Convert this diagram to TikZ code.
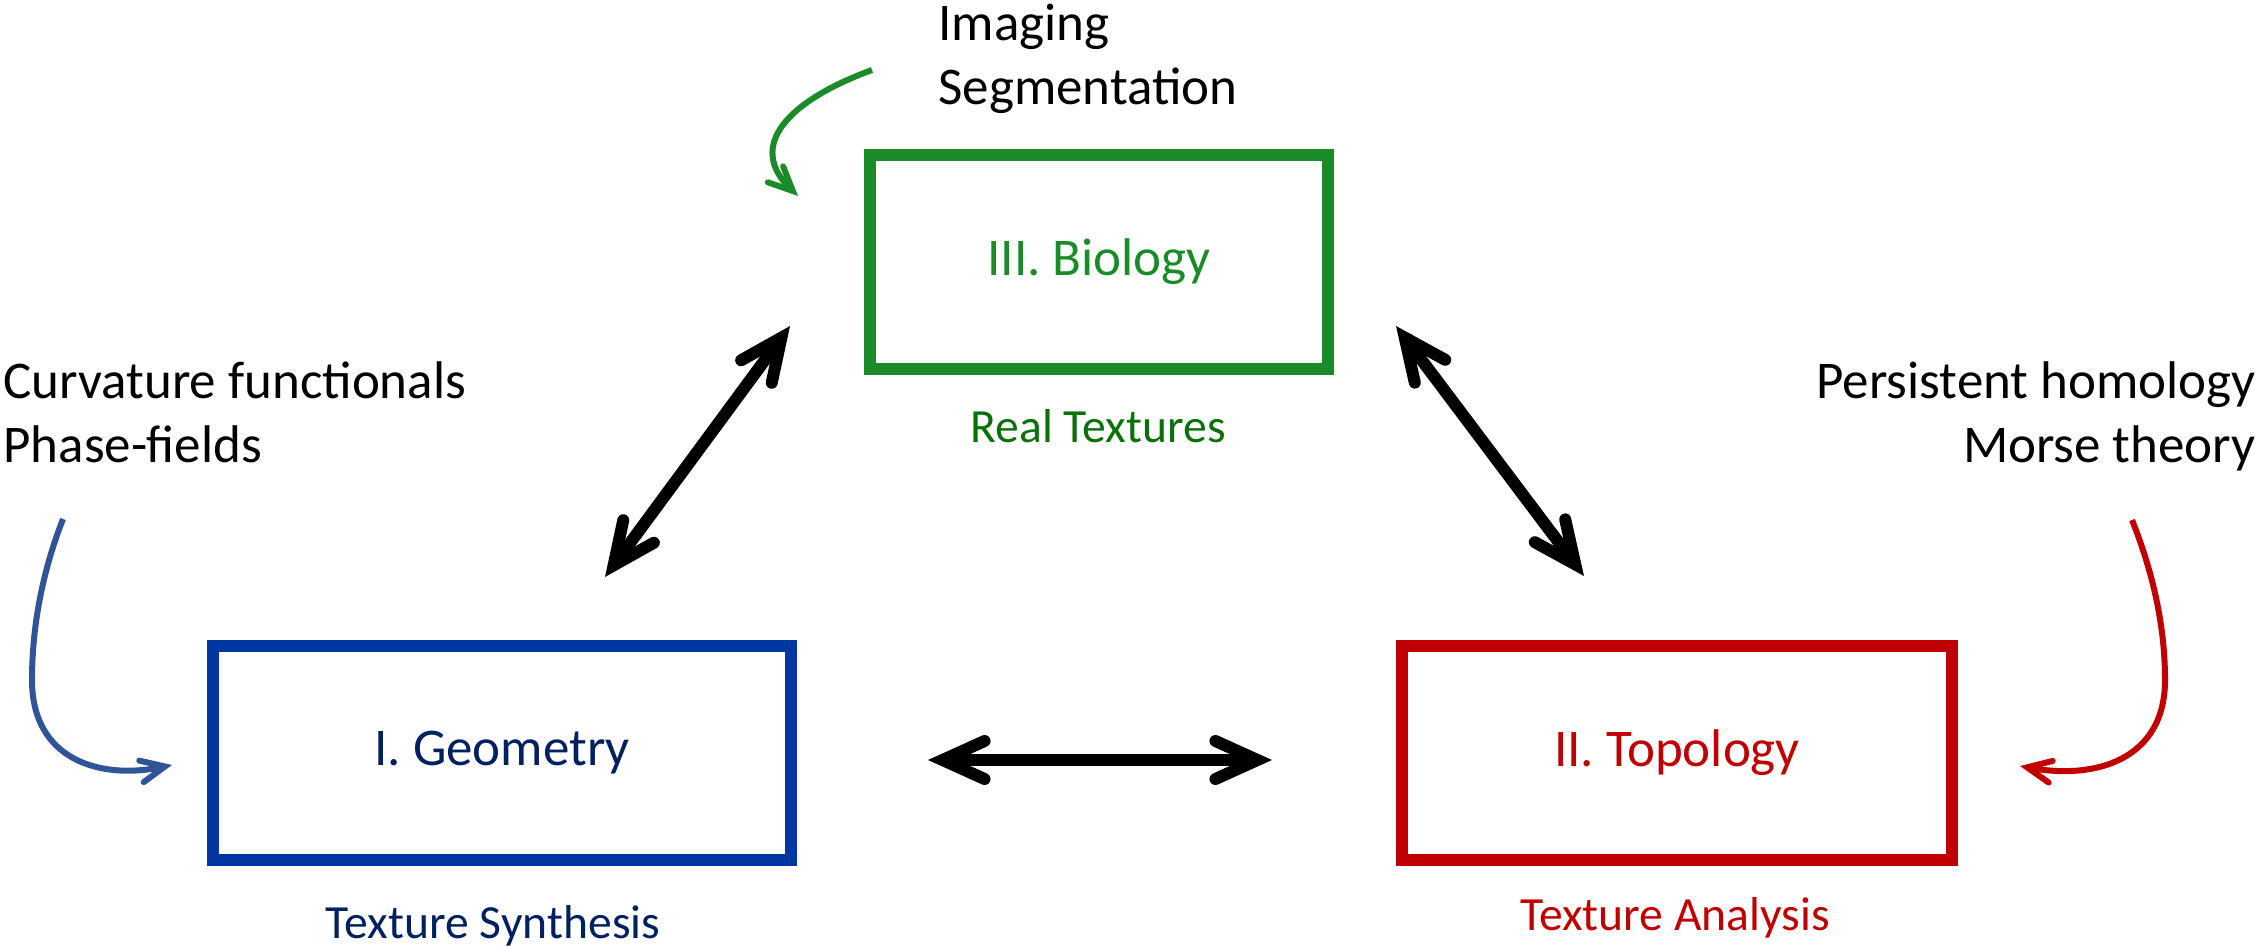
\documentclass[tikz,border=0pt]{standalone}
\usepackage{fontspec}
\setmainfont{Carlito}
\usetikzlibrary{arrows.meta,calc}
\definecolor{geoblue}{HTML}{0036A0}
\definecolor{geotext}{HTML}{002060}
\definecolor{geocurve}{HTML}{2F5597}
\definecolor{biogreen}{HTML}{1B8A29}
\definecolor{biodark}{HTML}{0A700A}
\definecolor{topred}{HTML}{C00000}
\newcommand\mainsize{\fontsize{26.5pt}{32pt}\selectfont}
\newcommand\capsize{\fontsize{23.8pt}{28pt}\selectfont}
\begin{document}
\begin{tikzpicture}[x=0.5pt,y=-0.5pt,
  box/.style={draw, line width=6pt, minimum height=107pt, inner sep=0pt, font=\mainsize},
  captext/.style={inner sep=0pt, font=\capsize, anchor=base},
  side/.style={inner sep=0pt, font=\mainsize, text=black},
  dbl/.style={line width=6pt, {Straight Barb[length=21pt, width=19pt, line cap=round]}-{Straight Barb[length=21pt, width=19pt, line cap=round]}},
  feed/.style={line width=3pt, -{Straight Barb[length=12pt, width=11pt, line cap=round]}}]
\useasboundingbox (0,0) rectangle (2262,946);
% boxes
\node[box, draw=geoblue, text=geotext, minimum width=289pt] (geo) at (502,753) {I. Geometry};
\node[box, draw=biogreen, text=biogreen, minimum width=229pt] (bio) at (1099,262) {III. Biology};
\node[box, draw=topred, text=topred, minimum width=275pt] (top) at (1677,753) {II. Topology};
% captions
\node[captext, text=geotext] (geocap) at (493,938) {Texture Synthesis};
\node[captext, text=biodark] (biocap) at (1098,442) {Real Textures};
\node[captext, text=topred] (topcap) at (1675,930) {Texture Analysis};
% literature texts
\node[side, anchor=base west, align=left] (geolit) at (3,462) {Curvature functionals\\Phase-fields};
\node[side, anchor=base east, align=right] (toplit) at (2256,462) {Persistent homology\\Morse theory};
\node[side, anchor=base west, align=left] (biolit) at (938,105) {Imaging\\Segmentation};
% connectors between the boxes
\coordinate (gb1) at (605,577);
\coordinate (gb2) at (790,326);
\coordinate (bt1) at (1396,326);
\coordinate (bt2) at (1584,576);
\draw[dbl] (gb1) -- (gb2);
\draw[dbl] (bt1) -- (bt2);
\draw[dbl] ($(geo.east)+(131,7)$) -- ($(top.west)+(-124,7)$);
% feed-in arrows
\coordinate (gs) at (63,519);
\coordinate (ge) at (172,765);
\coordinate (ts) at (2132,520);
\coordinate (te) at (2020,766);
\coordinate (bs) at (872,70);
\coordinate (be) at (798,196);
\draw[feed, geocurve] (gs) .. controls (45,565) and (32,620) .. (32,680) .. controls (32,760) and (100,780) .. (ge);
\draw[feed, topred] (ts) .. controls (2150,565) and (2165,620) .. (2165,680) .. controls (2165,760) and (2095,780) .. (te);
\draw[feed, biogreen] (bs) .. controls (790,100) and (745,145) .. (be);
\end{tikzpicture}
\end{document}
